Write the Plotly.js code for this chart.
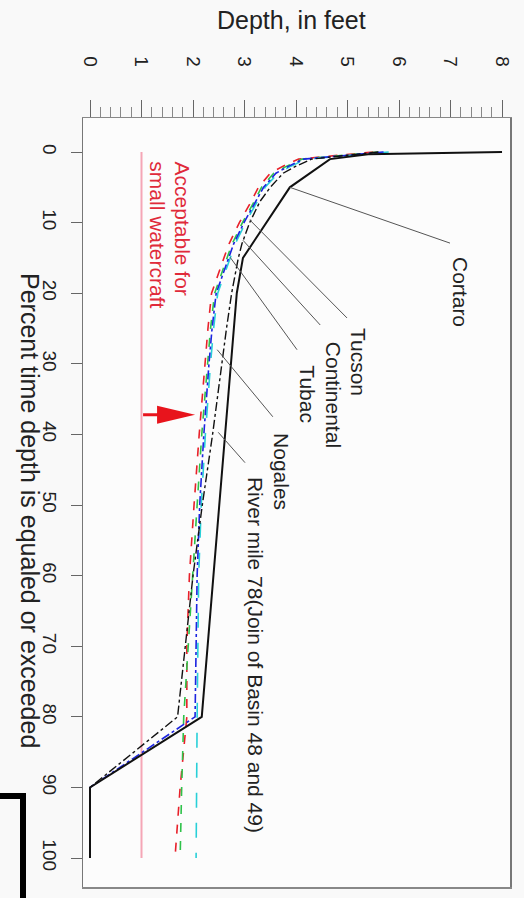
<!DOCTYPE html>
<html><head><meta charset="utf-8">
<script src="https://cdn.plot.ly/plotly-3.0.1.min.js"></script>
<style>html,body{margin:0;padding:0;background:#f9f9f9}#chart{width:524px;height:898px}</style>
</head><body><div id="chart"></div>
<script>
// Percent time depth is equaled or exceeded
const pctPoints = [0,1,2,3,5,7,10,13,15,20,25,30,40,50,60,70,80,90,100];
// Depth, in feet
const tucson      = [5.8,4.20,3.90,3.65,3.40,3.25,3.02,2.82,2.72,2.48,2.40,2.34,2.24,2.16,2.11,2.09,2.08,2.07,2.06];
const continental = [5.6,4.12,3.82,3.57,3.33,3.19,2.96,2.76,2.66,2.42,2.34,2.28,2.17,2.08,1.99,1.90,1.82,1.78,1.75];
const tubac       = [5.5,4.05,3.75,3.50,3.27,3.13,2.90,2.70,2.60,2.36,2.29,2.23,2.12,2.02,1.93,1.88,1.88,1.75,1.65];
const nogales     = [5.7,4.15,3.86,3.61,3.37,3.22,2.99,2.79,2.69,2.45,2.37,2.31,2.21,2.13,2.08,2.06,2.04,0,0];
const riverMile78 = [5.6,4.30,4.00,3.75,3.50,3.30,3.10,2.95,2.88,2.75,2.65,2.56,2.38,2.18,2.00,1.85,1.70,0,0];
const cortaroPct   = [0,0.3,1,5,15,20,80,90,100];
const cortaroDepth = [8.0,5.4,4.66,3.88,2.97,2.85,2.17,0,0];
const watercraftDepth = [1,1];
const watercraftPct = [0,100];
const depthTicks = [0,1,2,3,4,5,6,7,8];
const pctTicks = [0,10,20,30,40,50,60,70,80,90,100];
const stationNames = ['Cortaro','Tucson','Continental','Tubac','Nogales','River mile 78(Join of Basin 48 and 49)'];

const traces = [
  {x: watercraftDepth, y: watercraftPct, mode:'lines', line:{color:'#f5a6b6', width:2}},
  {x: tubac, y: pctPoints, mode:'lines', line:{color:'#e8202a', width:1.6, dash:'dash'}},
  {x: continental, y: pctPoints, mode:'lines', line:{color:'#2fc24a', width:1.6, dash:'dash'}},
  {x: tucson, y: pctPoints, mode:'lines', line:{color:'#28d0d8', width:1.6, dash:'longdash'}},
  {x: nogales, y: pctPoints, mode:'lines', line:{color:'#1c24e0', width:1.6, dash:'dashdot'}},
  {x: riverMile78, y: pctPoints, mode:'lines', line:{color:'#111111', width:1.4, dash:'dashdot'}},
  {x: cortaroDepth, y: cortaroPct, mode:'lines', line:{color:'#111111', width:2}}
];

// pixel -> paper helpers for decorations outside the plot
const M = {l:83, r:14, t:118, b:11}, W = 524, H = 898;
const pw = W - M.l - M.r, ph = H - M.t - M.b;
const px = v => (v - M.l) / pw;
const py = v => (H - M.b - v) / ph;

const labelFont = {size:21, color:'#222', family:'Liberation Sans, Arial, sans-serif'};
const labels = [
  {name: stationNames[0], x:7.18, y:19.8},
  {name: stationNames[1], x:5.20, y:29.7},
  {name: stationNames[2], x:4.72, y:34.4},
  {name: stationNames[3], x:4.23, y:34.3},
  {name: stationNames[4], x:3.73, y:45.2},
  {name: stationNames[5], x:3.20, y:71.2}
];
const leaders = [
  [3.88, 5.0, 6.99, 12.9],
  [3.10, 9.6, 4.99, 23.5],
  [2.97, 12.5, 4.47, 24.5],
  [2.72, 14.9, 4.02, 28.0],
  [2.47, 28.0, 3.55, 37.5],
  [2.49, 39.7, 3.01, 44.0]
];

const annotations = labels.map(l => ({
  x:l.x, y:l.y, xref:'x', yref:'y', xanchor:'center', yanchor:'middle', text:l.name, showarrow:false, textangle:90, font:labelFont
}));
annotations.push(
  {x:1.79, y:1.1, xref:'x', yref:'y', xanchor:'center', yanchor:'top', text:'Acceptable for', showarrow:false, textangle:90,
   font:{size:21, color:'#e02a3a', family:'Liberation Sans, Arial, sans-serif'}},
  {x:1.32, y:1.1, xref:'x', yref:'y', xanchor:'center', yanchor:'top', text:'small watercraft', showarrow:false, textangle:90,
   font:{size:21, color:'#e02a3a', family:'Liberation Sans, Arial, sans-serif'}},
  {x:px(291), y:py(20), xref:'paper', yref:'paper', xanchor:'center', yanchor:'middle', text:'Depth, in feet', showarrow:false,
   font:{size:25, color:'#222', family:'Liberation Sans, Arial, sans-serif'}},
  {x:px(30), y:py(510), xref:'paper', yref:'paper', xanchor:'center', yanchor:'middle', text:'Percent time depth is equaled or exceeded', showarrow:false, textangle:90,
   font:{size:25, color:'#222', family:'Liberation Sans, Arial, sans-serif'}}
);

const shapes = leaders.map(s => ({
  type:'line', xref:'x', yref:'y', x0:s[0], y0:s[1], x1:s[2], y1:s[3], line:{color:'#555', width:1}
}));
shapes.push({
  type:'path', xref:'x', yref:'y', xsizemode:'pixel', ysizemode:'pixel', xanchor:2.04, yanchor:37.2,
  path:'M0,0 L-38,9 L-38,1.5 L-52,1.5 L-52,-1.5 L-38,-1.5 L-38,-9 Z',
  fillcolor:'#e8141c', line:{width:0}
});
shapes.push({
  type:'path', xref:'paper', yref:'paper',
  path:`M${px(-2)},${py(796)} L${px(23)},${py(796)} L${px(23)},${py(900)}`,
  line:{color:'#000', width:6}
});

const layout = {
  width:W, height:H, margin:M,
  paper_bgcolor:'#f9f9f9', plot_bgcolor:'#fcfcfc',
  showlegend:false,
  font:{family:'Liberation Sans, Arial, sans-serif', color:'#222'},
  xaxis:{side:'top', range:[-0.136, 8.155], tickmode:'array', tickvals:depthTicks, ticktext:depthTicks.map(String),
    tickangle:90, ticks:'outside', ticklen:17, tickcolor:'#666', tickwidth:1,
    minor:{tick0:0, dtick:0.2, ticks:'outside', ticklen:10, tickcolor:'#888', tickwidth:1},
    showgrid:false, zeroline:false, showline:true, mirror:true, linecolor:'#888', linewidth:1.5,
    tickfont:{size:19, color:'#222'}, ticklabelstandoff:26},
  yaxis:{range:[104.1, -4.82], tickmode:'array', tickvals:pctTicks, ticktext:pctTicks.map(String),
    tickangle:90, ticks:'outside', ticklen:11, tickcolor:'#666', tickwidth:1,
    showgrid:false, zeroline:false, showline:true, mirror:true, linecolor:'#777', linewidth:1.5,
    tickfont:{size:19, color:'#222'}, ticklabelstandoff:5},
  annotations, shapes
};

Plotly.newPlot('chart', traces, layout, {staticPlot:true, displayModeBar:false});
</script></body></html>
